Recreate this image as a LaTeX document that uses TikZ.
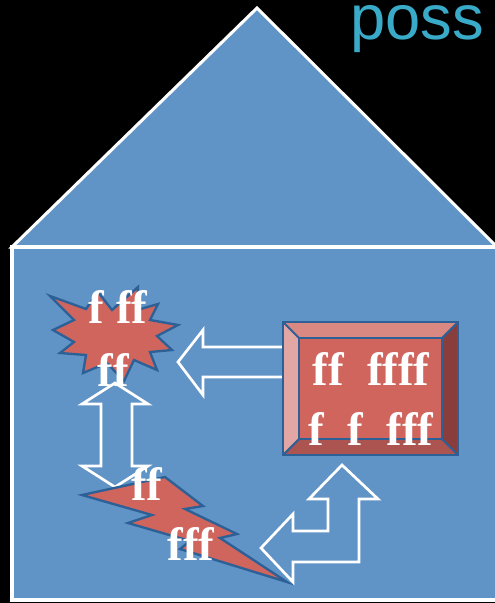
\documentclass[tikz,border=0pt]{standalone}
\usepackage{fontspec}
\newfontfamily\titlefont{Liberation Sans}
\newfontfamily\glyphfont{Liberation Serif}
\usetikzlibrary{positioning}
\definecolor{housecolor}{RGB}{96,147,198}
\definecolor{sparkcolor}{RGB}{207,101,93}
\definecolor{rimcolor}{RGB}{44,96,150}
\definecolor{titlecolor}{RGB}{58,170,201}
\definecolor{bevtop}{RGB}{217,136,130}
\definecolor{bevleft}{RGB}{226,166,164}
\definecolor{bevright}{RGB}{138,62,60}
\definecolor{bevbot}{RGB}{171,84,80}
\tikzset{
  wallln/.style={fill=housecolor, draw=white, line width=2.6pt, line join=miter},
  sparkln/.style={fill=sparkcolor, draw=rimcolor, line width=2pt, line join=miter},
  blockarrow/.style={fill=housecolor, draw=white, line width=2.3pt, line join=miter},
  bevelln/.style={draw=rimcolor, line width=1.8pt, line join=miter},
  ftext/.style={text=white, inner sep=0pt, anchor=base,
    font=\glyphfont\bfseries\fontsize{40}{44}\selectfont},
}

\begin{document}
\begin{tikzpicture}[x=0.03cm, y=-0.03cm]
    \fill[black] (0,0) rectangle (495,603);
    \useasboundingbox (0,0) rectangle (495,603);
    % title
    \node[titlecolor, anchor=base west, inner sep=0pt,
      font=\titlefont\fontsize{54}{60}\selectfont] (title) at (350,39) {poss};
    % house
    \draw[wallln] (12,247) -- (257,8) -- (500,250) -- cycle;
    \draw[wallln] (12,247) rectangle (510,600);
    % explosion
    \draw[sparkln] (50,296) -- (86,309) -- (98,292) -- (112,310) -- (138,287)
      -- (137,310) -- (158,304) -- (150,320) -- (178,325) -- (157,336)
      -- (172,350) -- (150,352) -- (157,370) -- (134,360) -- (124,381)
      -- (107,363) -- (83,373) -- (86,355) -- (60,353) -- (74,342)
      -- (53,330) -- (74,320) -- cycle;
    % arrow to explosion
    \draw[blockarrow] (283,347) -- (203,347) -- (203,330) -- (178,362)
      -- (203,395) -- (203,377) -- (283,377);
    % bevel box
    \fill[bevtop] (283,322) -- (458,322) -- (442,338) -- (299,338) -- cycle;
    \fill[bevleft] (283,322) -- (299,338) -- (299,439) -- (283,455) -- cycle;
    \fill[bevright] (458,322) -- (458,455) -- (442,439) -- (442,338) -- cycle;
    \fill[bevbot] (283,455) -- (458,455) -- (442,439) -- (299,439) -- cycle;
    \fill[sparkcolor] (299,338) rectangle (442,439);
    \draw[bevelln] (283,322) rectangle (458,455);
    \draw[bevelln] (299,338) rectangle (442,439);
    \draw[bevelln] (283,322) -- (299,338) (458,322) -- (442,338)
      (283,455) -- (299,439) (458,455) -- (442,439);
    % up-down arrow
    \draw[blockarrow] (115,383) -- (148,404) -- (132,404) -- (132,466)
      -- (148,466) -- (115,487) -- (82,466) -- (101,466) -- (101,404)
      -- (82,404) -- cycle;
    % lightning bolt
    \draw[sparkln] (82,495) -- (165,477) -- (203,506) -- (185,509)
      -- (237,534) -- (220,538) -- (287,582) -- (180,549) -- (190,541)
      -- (128,523) -- (152,515) -- cycle;
    % bent-up arrow
    \draw[blockarrow] (342,465) -- (378,499) -- (359,499) -- (359,562)
      -- (293,562) -- (293,582) -- (261,548) -- (293,514) -- (293,531)
      -- (328,531) -- (328,499) -- (309,499) -- cycle;
    % labels
    \node[ftext] (burstA) at (118,323) {f\ ff};
    \node[ftext] (burstB) at (113,386) {ff};
    \node[ftext] (boxA) at (371,385) {ff\ \ ffff};
    \node[ftext] (boxB) at (371,445) {f\ \ f\ \ fff};
    \node[ftext] (boltA) at (147,500) {ff};
    \node[ftext] (boltB) at (191,560) {fff};
\end{tikzpicture}
\end{document}
